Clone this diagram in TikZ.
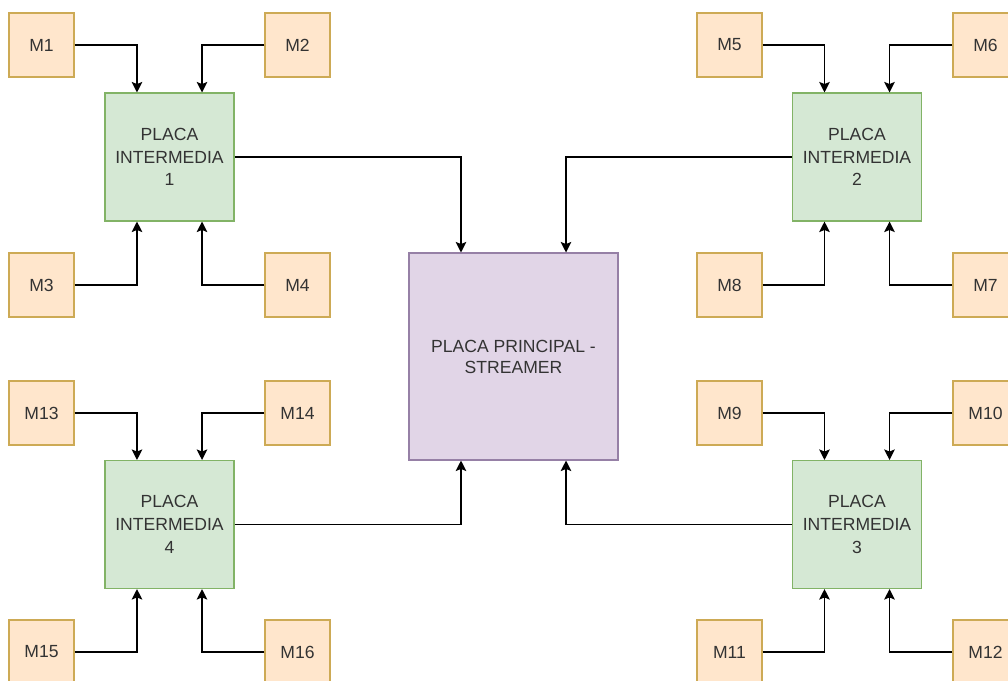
\documentclass[tikz,border=0pt]{standalone}
\usepackage{fontspec}
\setmainfont{Liberation Sans}
\usetikzlibrary{arrows.meta,calc}
\definecolor{modfill}{HTML}{FFE6CC}
\definecolor{moddraw}{HTML}{CDAA55}
\definecolor{intfill}{HTML}{D5E8D4}
\definecolor{intdraw}{HTML}{82B366}
\definecolor{prifill}{HTML}{E1D5E7}
\definecolor{pridraw}{HTML}{9680A6}
\definecolor{texto}{HTML}{333333}
\tikzset{
  modulo/.style={draw=moddraw,fill=modfill,line width=0.6pt,minimum width=1.3cm,
    minimum height=1.28cm,inner sep=0pt,text=texto,font=\fontsize{10}{13}\selectfont},
  intermedia/.style={draw=intdraw,fill=intfill,line width=0.6pt,minimum width=2.58cm,
    minimum height=2.56cm,inner sep=0pt,align=center,text=texto,font=\fontsize{10}{13}\selectfont},
  principal/.style={draw=pridraw,fill=prifill,line width=0.6pt,minimum width=4.18cm,
    minimum height=4.14cm,inner sep=0pt,align=center,text=texto,font=\fontsize{10}{12}\selectfont},
  conector/.style={->,line width=0.8pt}
}

\begin{document}
\begin{tikzpicture}[x=0.02cm,y=-0.02cm,>={Stealth[length=6pt,width=6pt,inset=1.2pt]}]
%\draw[help lines] (0,0)grid(1008,680);
\useasboundingbox (0,0) rectangle (1008,680);
\clip (0,0) rectangle (1008,680);
% placas
\node[principal] (pp) at (513.5,356.5) {PLACA PRINCIPAL -\\STREAMER};
\node[intermedia] (pi1) at (169.5,157) {PLACA\\INTERMEDIA\\1};
\node[intermedia] (pi2) at (857,157) {PLACA\\INTERMEDIA\\2};
\node[intermedia] (pi3) at (857,524.5) {PLACA\\INTERMEDIA\\3};
\node[intermedia] (pi4) at (169.5,524.5) {PLACA\\INTERMEDIA\\4};
% modulos
\node[modulo] (m1) at (41.5,45) {M1};
\node[modulo] (m2) at (297.5,45) {M2};
\node[modulo] (m3) at (41.5,285) {M3};
\node[modulo] (m4) at (297.5,285) {M4};
\node[modulo] (m5) at (729.5,45) {M5};
\node[modulo] (m6) at (985.5,45) {M6};
\node[modulo] (m7) at (985.5,285) {M7};
\node[modulo] (m8) at (729.5,285) {M8};
\node[modulo] (m9) at (729.5,413) {M9};
\node[modulo] (m10) at (985.5,413) {M10};
\node[modulo] (m11) at (729.5,652) {M11};
\node[modulo] (m12) at (985.5,652) {M12};
\node[modulo] (m13) at (41.5,413) {M13};
\node[modulo] (m14) at (297.5,413) {M14};
\node[modulo] (m15) at (41.5,652) {M15};
\node[modulo] (m16) at (297.5,652) {M16};
% modulos -> intermedias
\draw[conector] (m1) -| ($(pi1.north west)!0.25!(pi1.north east)$);
\draw[conector] (m2) -| ($(pi1.north west)!0.75!(pi1.north east)$);
\draw[conector] (m3) -| ($(pi1.south west)!0.25!(pi1.south east)$);
\draw[conector] (m4) -| ($(pi1.south west)!0.75!(pi1.south east)$);
\draw[conector] (m5) -| ($(pi2.north west)!0.25!(pi2.north east)$);
\draw[conector] (m6) -| ($(pi2.north west)!0.75!(pi2.north east)$);
\draw[conector] (m8) -| ($(pi2.south west)!0.25!(pi2.south east)$);
\draw[conector] (m7) -| ($(pi2.south west)!0.75!(pi2.south east)$);
\draw[conector] (m9) -| ($(pi3.north west)!0.25!(pi3.north east)$);
\draw[conector] (m10) -| ($(pi3.north west)!0.75!(pi3.north east)$);
\draw[conector] (m11) -| ($(pi3.south west)!0.25!(pi3.south east)$);
\draw[conector] (m12) -| ($(pi3.south west)!0.75!(pi3.south east)$);
\draw[conector] (m13) -| ($(pi4.north west)!0.25!(pi4.north east)$);
\draw[conector] (m14) -| ($(pi4.north west)!0.75!(pi4.north east)$);
\draw[conector] (m15) -| ($(pi4.south west)!0.25!(pi4.south east)$);
\draw[conector] (m16) -| ($(pi4.south west)!0.75!(pi4.south east)$);
% intermedias -> principal
\draw[conector] (pi1) -| ($(pp.north west)!0.25!(pp.north east)$);
\draw[conector] (pi2) -| ($(pp.north west)!0.75!(pp.north east)$);
\draw[conector] (pi4) -| ($(pp.south west)!0.25!(pp.south east)$);
\draw[conector] (pi3) -| ($(pp.south west)!0.75!(pp.south east)$);
\end{tikzpicture}
\end{document}
